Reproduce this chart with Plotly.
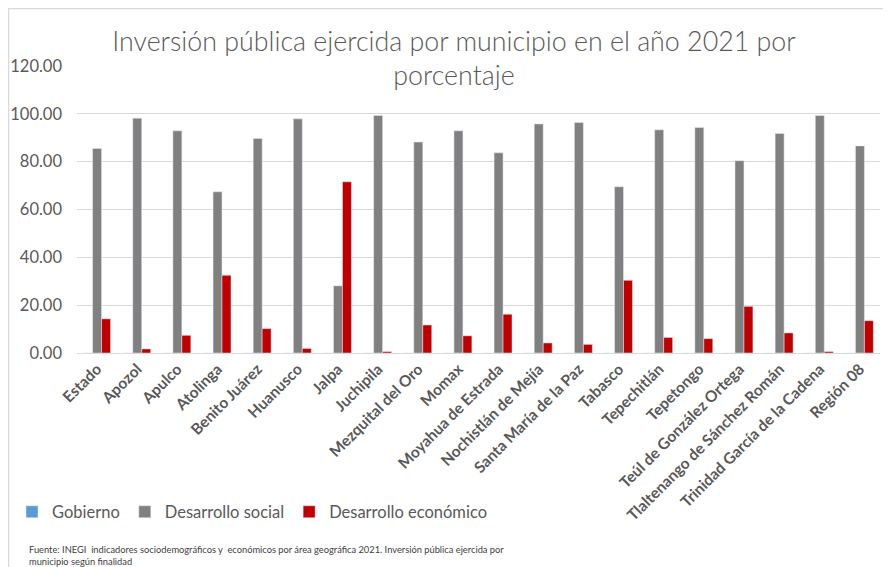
import plotly.graph_objects as go

categories = ["Estado", "Apozol", "Apulco", "Atolinga", "Benito Juárez", "Huanusco", "Jalpa",
              "Juchipila", "Mezquital del Oro", "Momax", "Moyahua de Estrada", "Nochistlán de Mejía",
              "Santa María de la Paz", "Tabasco", "Tepechitlán", "Tepetongo", "Teúl de González Ortega",
              "Tlaltenango de Sánchez Román", "Trinidad García de la Cadena", "Región 08"]
gobierno = [0.0] * 20
desarrollo_social = [85.5, 98.2, 92.9, 67.4, 89.7, 97.9, 28.1, 99.3, 88.2, 92.9, 83.7, 95.8,
                     96.4, 69.5, 93.3, 94.3, 80.4, 91.8, 99.3, 86.6]
desarrollo_economico = [14.3, 1.7, 7.4, 32.5, 10.2, 1.9, 71.6, 0.6, 11.7, 7.2, 16.2, 4.2,
                        3.6, 30.4, 6.5, 6.0, 19.5, 8.4, 0.6, 13.5]
yticks = [0, 20, 40, 60, 80, 100, 120]

FONT = "Lato"
TXT = "#595959"

fig = go.Figure()
fig.add_bar(name="Gobierno", x=categories, y=gobierno, marker_color="#5B9BD5")
fig.add_bar(name="Desarrollo social", x=categories, y=desarrollo_social, marker_color="#808080")
fig.add_bar(name="Desarrollo económico", x=categories, y=desarrollo_economico, marker_color="#C00000")

# page body has an 8px margin: work in reference-pixel coordinates, shifted by OFF
OFF = 8
W, H = 891 - OFF, 567 - OFF
L = 77 - OFF
T = 66 - OFF
R = W - (880 - OFF)
B = H - (353 - OFF)
pw, ph = W - L - R, H - T - B

def px_x(p):
    return (p - OFF - L) / pw

def px_y(p):
    return (H - B - (p - OFF)) / ph

fig.update_layout(
    width=W, height=H,
    margin=dict(l=L, r=R, t=T, b=B, autoexpand=False),
    paper_bgcolor="white", plot_bgcolor="white",
    barmode="group", bargap=0.33, bargroupgap=0,
    font=dict(family=FONT, color=TXT),
    title=dict(text="Inversión pública ejercida por municipio en el año 2021 por<br>porcentaje",
               xref="paper", x=px_x(454), xanchor="center",
               yref="container", y=1 - (50.5 - OFF) / H, yanchor="middle",
               font=dict(family=FONT, size=26.8, color="#595959", weight=300)),
    xaxis=dict(tickangle=-45, automargin=False, showline=True, linecolor="#D9D9D9", linewidth=1,
               tickfont=dict(family=FONT, size=15.5, color=TXT, weight=700), ticks=""),
    yaxis=dict(range=[0, 120], tickvals=yticks, tickformat=".2f", showgrid=True,
               gridcolor="#D9D9D9", gridwidth=1, zeroline=False, automargin=False,
               tickfont=dict(family=FONT, size=16.5, color=TXT), ticks="", ticklabelstandoff=14),
    legend=dict(orientation="h", x=px_x(12), xanchor="left", y=px_y(512), yanchor="middle",
                font=dict(family=FONT, size=16.5, color=TXT), itemwidth=30, tracegroupgap=0),
    showlegend=True,
)

fig.add_shape(type="rect", xref="paper", yref="paper",
              x0=px_x(8.5), x1=px_x(884.5), y0=px_y(600), y1=px_y(8.5),
              line=dict(color="#D9D9D9", width=1.5), fillcolor="rgba(0,0,0,0)", layer="below")

fig.add_annotation(
    text="Fuente: INEGI  indicadores sociodemográficos y  económicos por área geográfica 2021. Inversión pública ejercida por<br>municipio según finalidad",
    xref="paper", yref="paper", x=px_x(27), y=px_y(555), xanchor="left", yanchor="middle",
    showarrow=False, align="left", font=dict(family=FONT, size=9.3, color="#404040"))

fig.write_html("out.html")
